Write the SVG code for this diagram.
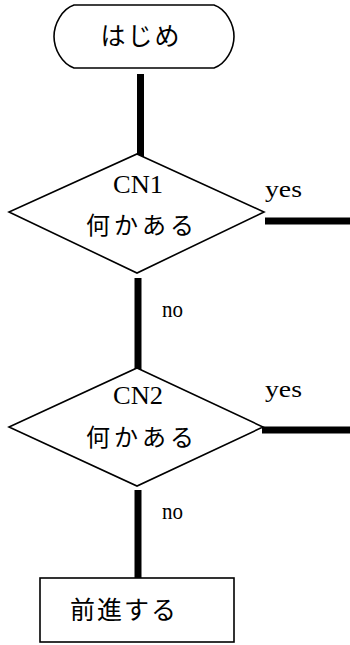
<svg xmlns="http://www.w3.org/2000/svg" width="350" height="645" viewBox="0 0 350 645">
<style>
.shape{fill:#fff;stroke:#000;stroke-width:1.6}
.jp{font-family:"Noto Sans CJK JP","Noto Sans",sans-serif;font-size:24px;fill:#000;text-anchor:middle}
.lat{font-family:"Liberation Serif",serif;font-size:23px;fill:#000}
.conn{stroke:#000;stroke-width:7;fill:none}
</style>
<rect width="350" height="645" fill="#fff"/>
<g id="connectors">
<line class="conn" x1="140.5" y1="74" x2="140.5" y2="165"/>
<line class="conn" x1="138" y1="278" x2="138" y2="370"/>
<line class="conn" x1="138" y1="490" x2="138" y2="582"/>
<line class="conn" x1="265" y1="221" x2="350" y2="221"/>
<line class="conn" x1="262" y1="430" x2="350" y2="430"/>
<text class="lat" x="265" y="197" textLength="37" lengthAdjust="spacingAndGlyphs">yes</text>
<text class="lat" x="265" y="397" textLength="37" lengthAdjust="spacingAndGlyphs">yes</text>
<text class="lat" x="162" y="317" textLength="21" lengthAdjust="spacingAndGlyphs">no</text>
<text class="lat" x="162" y="519" textLength="21" lengthAdjust="spacingAndGlyphs">no</text>
</g>
<g id="start">
<path class="shape" d="M74 5 H214 C226 9 234 24 234 36.5 C234 49 226 64 214 68 H74 C62 64 54 49 54 36.5 C54 24 62 9 74 5 Z"/>
<text class="jp" x="141" y="45" style="font-size:25px;letter-spacing:2px">はじめ</text>
</g>
<g id="cn1">
<polygon class="shape" points="137,154 264,212 137,273 9,212"/>
<text class="lat" x="113" y="193" style="font-size:25px" textLength="50" lengthAdjust="spacingAndGlyphs">CN1</text>
<text class="jp" x="142" y="234" style="letter-spacing:4px">何かある</text>
</g>
<g id="cn2">
<polygon class="shape" points="137,368 263,427 137,486 9,427"/>
<text class="lat" x="113" y="404" style="font-size:25px" textLength="50" lengthAdjust="spacingAndGlyphs">CN2</text>
<text class="jp" x="142" y="446" style="letter-spacing:4px">何かある</text>
</g>
<g id="forward">
<rect class="shape" x="40" y="578" width="194" height="64"/>
<text class="jp" x="124" y="619" style="font-size:25px;letter-spacing:2px">前進する</text>
</g>
</svg>
